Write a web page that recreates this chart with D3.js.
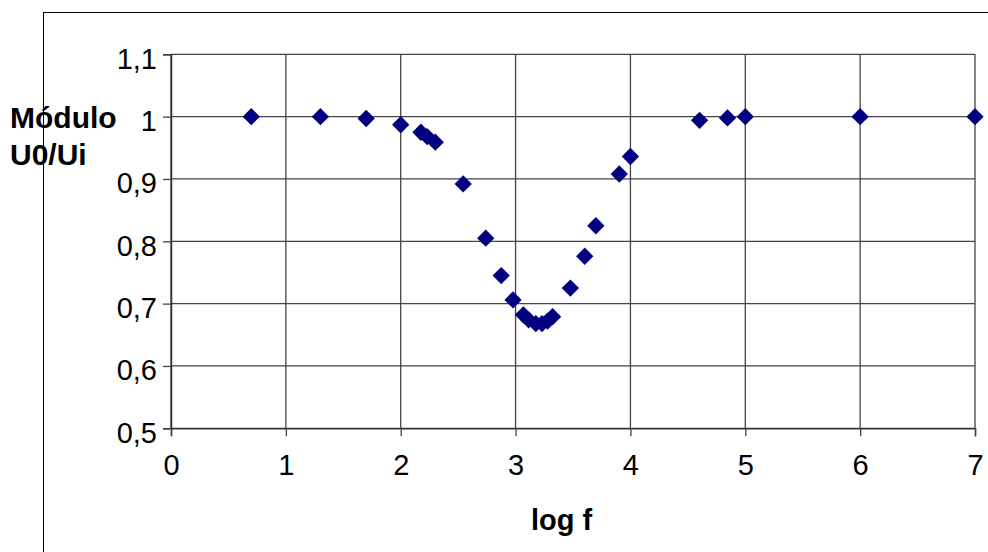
<!DOCTYPE html>
<html>
<head>
<meta charset="utf-8">
<script src="https://cdn.jsdelivr.net/npm/d3@7"></script>
<style>
  body { margin: 0; background: #fff; }
  text { font-family: Arial, "Liberation Sans", sans-serif; }
</style>
</head>
<body>
<div id="chart"></div>
<script>
var svgWidth = 988;
var svgHeight = 552;

// log f values and measured module U0/Ui
var logF = [0.699, 1.301, 1.699, 2.0, 2.176, 2.23, 2.301, 2.544, 2.74, 2.875, 2.978,
  3.068, 3.114, 3.176, 3.23, 3.279, 3.322, 3.477, 3.602, 3.699, 3.903, 4.0,
  4.602, 4.845, 5, 6, 7];
var modulo = [1.0, 1.0, 0.997, 0.987, 0.975, 0.968, 0.959, 0.892, 0.805, 0.745, 0.706,
  0.682, 0.674, 0.668, 0.668, 0.672, 0.679, 0.725, 0.776, 0.825, 0.908, 0.936,
  0.994, 0.998, 1.0, 1.0, 1.0];

var xTicks = [0, 1, 2, 3, 4, 5, 6, 7];
var yTicks = [0.5, 0.6, 0.7, 0.8, 0.9, 1, 1.1];

var plot = { left: 171, right: 975, top: 54.3, bottom: 428.3 };

var svg = d3.select("#chart")
  .append("svg")
  .attr("width", svgWidth)
  .attr("height", svgHeight);

// outer chart frame (runs off the page to the right and bottom)
svg.append("rect")
  .attr("x", 43.5)
  .attr("y", 12.5)
  .attr("width", 1000)
  .attr("height", 600)
  .attr("fill", "none")
  .attr("stroke", "#000")
  .attr("stroke-width", 1);

var xScale = d3.scaleLinear()
  .domain([0, 7])
  .range([plot.left, plot.right]);

var yScale = d3.scaleLinear()
  .domain([0.5, 1.1])
  .range([plot.bottom, plot.top]);

// gridlines
svg.append("g")
  .selectAll("line")
  .data(yTicks)
  .enter()
  .append("line")
  .attr("x1", plot.left)
  .attr("x2", plot.right)
  .attr("y1", d => yScale(d))
  .attr("y2", d => yScale(d))
  .attr("stroke", "#444")
  .attr("stroke-width", 1.3);

svg.append("g")
  .selectAll("line")
  .data(xTicks)
  .enter()
  .append("line")
  .attr("x1", d => xScale(d))
  .attr("x2", d => xScale(d))
  .attr("y1", plot.top)
  .attr("y2", plot.bottom)
  .attr("stroke", "#444")
  .attr("stroke-width", 1.3);

var comma = d => String(d).replace(".", ",");

var bottomAxis = d3.axisBottom(xScale)
  .tickValues(xTicks)
  .tickSize(8)
  .tickPadding(18)
  .tickFormat(comma);

var leftAxis = d3.axisLeft(yScale)
  .tickValues(yTicks)
  .tickSize(8)
  .tickPadding(6)
  .tickFormat(comma);

var xAxisG = svg.append("g")
  .attr("transform", `translate(0, ${plot.bottom})`)
  .call(bottomAxis);

var yAxisG = svg.append("g")
  .attr("transform", `translate(${plot.left}, 0)`)
  .call(leftAxis);

[xAxisG, yAxisG].forEach(function(g) {
  g.select(".domain").attr("stroke", "#333").attr("stroke-width", 1.5);
  g.selectAll(".tick line").attr("stroke", "#444").attr("stroke-width", 1.3);
  g.selectAll(".tick text")
    .attr("fill", "#000")
    .style("font-size", "29px")
    .style("font-family", "Arial, 'Liberation Sans', sans-serif");
});
yAxisG.selectAll(".tick text").attr("dy", "0.48em");

// points
svg.append("g")
  .selectAll("path")
  .data(logF)
  .enter()
  .append("path")
  .attr("d", d3.symbol().type(d3.symbolSquare).size(150))
  .attr("transform", (d, i) => `translate(${xScale(d)}, ${yScale(modulo[i])}) rotate(45)`)
  .attr("fill", "#000080");

// axis titles
var yTitle = svg.append("text")
  .style("font-size", "30px")
  .style("font-weight", "bold");
yTitle.append("tspan").attr("x", 10).attr("y", 128).text("Módulo");
yTitle.append("tspan").attr("x", 10).attr("y", 165).text("U0/Ui");

svg.append("text")
  .attr("x", 531)
  .attr("y", 530)
  .style("font-size", "29px")
  .style("font-weight", "bold")
  .text("log f");
</script>
</body>
</html>
